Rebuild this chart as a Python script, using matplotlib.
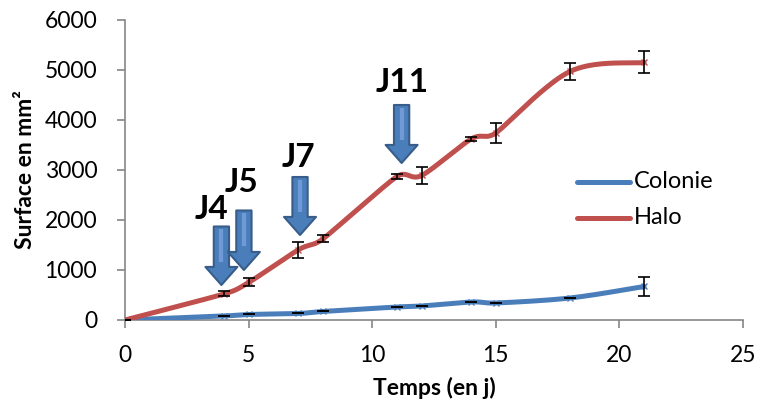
import numpy as np
import matplotlib.pyplot as plt

jours = [0, 4, 5, 7, 8, 11, 12, 14, 15, 18, 21]
colonie = [0, 80, 110, 130, 170, 260, 280, 360, 340, 440, 670]
colonie_err = [0, 0, 0, 0, 0, 0, 0, 0, 0, 0, 190]
halo = [0, 520, 750, 1400, 1620, 2870, 2890, 3620, 3740, 4970, 5150]
halo_err = [0, 50, 80, 160, 70, 50, 170, 40, 200, 170, 220]

fleches = ['J4', 'J5', 'J7', 'J11']
fleche_x = [3.90, 4.81, 7.08, 11.19]
fleche_haut = [1870, 2190, 2860, 4300]
fleche_pointe = [700, 1000, 1700, 3140]
label_x = [3.52, 4.73, 7.0, 11.23]
label_y = [2200, 2740, 3240, 4750]

# echelle ecran (px par unite) pour le lissage
SX, SY = 24.72, 0.05


def lisse(x, y, n=40):
    # lissage facon Excel : Bezier avec points de controle limites
    p = np.column_stack([np.asarray(x) * SX, np.asarray(y) * SY]).astype(float)
    pe = np.vstack([p[0], p, p[-1]])
    t = np.linspace(0, 1, n)[:, None]
    out = []
    for i in range(1, len(pe) - 2):
        p0, p1, p2, p3 = pe[i - 1], pe[i], pe[i + 1], pe[i + 2]
        d12 = np.linalg.norm(p2 - p1)
        v1 = (p2 - p0) / 6
        lim1 = 0.5 * min(np.linalg.norm(p1 - p0) or d12, d12)
        if np.linalg.norm(v1) > lim1:
            v1 = v1 / np.linalg.norm(v1) * lim1
        v2 = (p3 - p1) / 6
        lim2 = 0.5 * min(np.linalg.norm(p3 - p2) or d12, d12)
        if np.linalg.norm(v2) > lim2:
            v2 = v2 / np.linalg.norm(v2) * lim2
        b1 = p1 + v1
        b2 = p2 - v2
        seg = (1 - t) ** 3 * p1 + 3 * (1 - t) ** 2 * t * b1 + 3 * (1 - t) * t ** 2 * b2 + t ** 3 * p2
        out.append(seg)
    out = np.vstack(out)
    return out[:, 0] / SX, out[:, 1] / SY


plt.rcParams['font.family'] = ['Lato', 'DejaVu Sans']

fig = plt.figure(figsize=(7.59, 4.08), dpi=100)
ax = fig.add_axes([0.1647, 0.2157, 0.8142, 0.7353])

bleu = '#4a7ebb'
rouge = '#c0504d'

xs, ys = lisse(jours, colonie)
ax.plot(xs, ys, color=bleu, lw=3.6, solid_capstyle='round', zorder=3)
ax.plot(jours, colonie, ls='none', marker='x', color=bleu, ms=4, mew=1, zorder=3)
ax.errorbar(jours, colonie, yerr=colonie_err, fmt='none', ecolor='black', elinewidth=1.2, capsize=4, capthick=1.2, zorder=4)

xs, ys = lisse(jours, halo)
ax.plot(xs, ys, color=rouge, lw=3.6, solid_capstyle='round', zorder=3)
ax.plot(jours, halo, ls='none', marker='x', color=rouge, ms=4, mew=1, zorder=3)
ax.errorbar(jours, halo, yerr=halo_err, fmt='none', ecolor='black', elinewidth=1.2, capsize=4, capthick=1.2, zorder=4)

# legende
for nom, c, yy in [('Colonie', bleu, 0.46), ('Halo', rouge, 0.34)]:
    ax.plot([0.731, 0.817], [yy, yy], color=c, lw=3.6, solid_capstyle='round',
            transform=ax.transAxes, clip_on=False)
    ax.text(0.824, yy, nom, fontsize=17, va='center', ha='left', transform=ax.transAxes)

for nom, fx, fh, fp, lx, ly in zip(fleches, fleche_x, fleche_haut, fleche_pointe, label_x, label_y):
    ax.annotate('', xy=(fx, fp), xytext=(fx, fh),
                arrowprops=dict(arrowstyle='simple,head_length=13,head_width=23,tail_width=11',
                                mutation_scale=1, fc='#4a7ebb', ec='#385d8a', lw=1.5,
                                shrinkA=0, shrinkB=0), zorder=5)
    # reflet clair au centre de la fleche
    ax.plot([fx, fx], [fh - 60, fp + (fh - fp) * 0.4], color='#6f9ad6', lw=3,
            solid_capstyle='butt', zorder=6)
    ax.text(lx, ly, nom, fontsize=24, fontweight='bold', ha='center', va='center', zorder=6)

ax.set_xlim(0, 25)
ax.set_ylim(0, 6000)
ax.set_xticks(range(0, 26, 5))
ax.set_yticks(range(0, 6001, 1000))
for s in ['top', 'right']:
    ax.spines[s].set_visible(False)
for s in ['left', 'bottom']:
    ax.spines[s].set_color('#868686')
    ax.spines[s].set_linewidth(1.2)
ax.tick_params(colors='#868686', labelcolor='black', labelsize=16.5, length=6, width=1.2)
ax.tick_params(axis='x', pad=12)
ax.tick_params(axis='y', pad=14)
ax.set_xlabel('Temps (en j)', fontsize=16.5, fontweight='bold', labelpad=8)
ax.set_ylabel('Surface en mm²', fontsize=16.5, fontweight='bold', labelpad=6)

fig.savefig('out.png', dpi=100)
